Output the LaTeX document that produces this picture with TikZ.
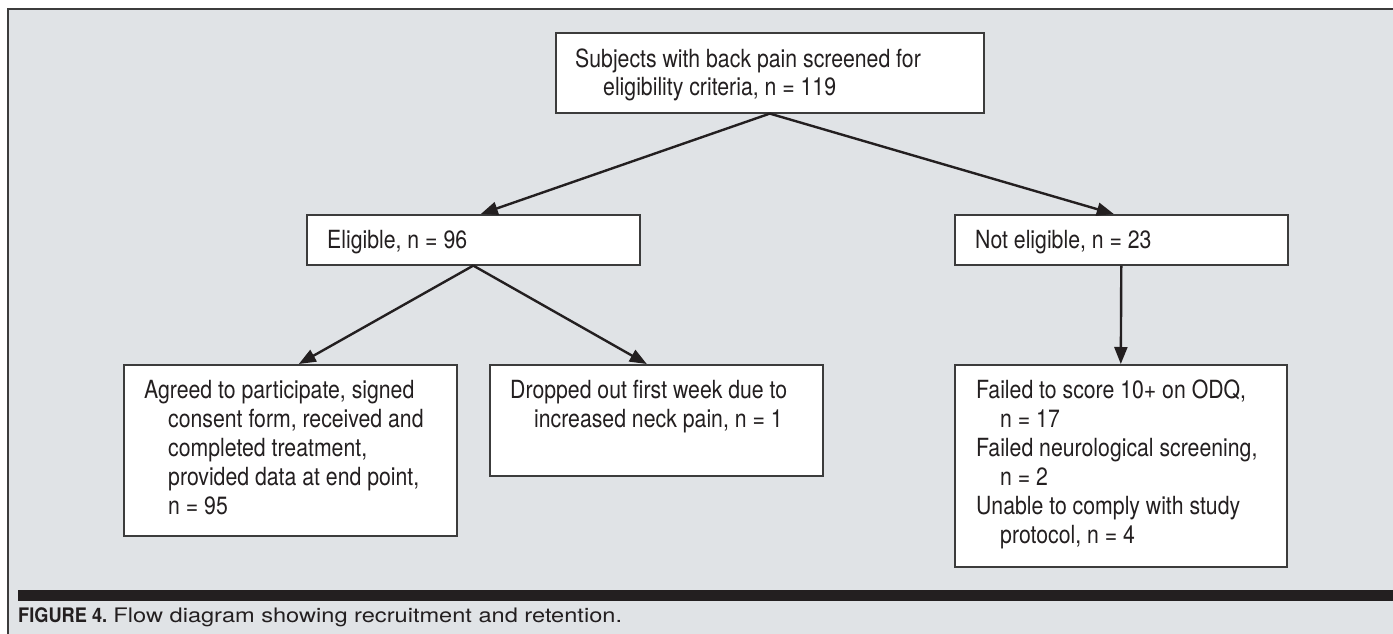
\documentclass[tikz,border=0pt]{standalone}
\usepackage{fontspec}
\setmainfont[FakeStretch=0.85]{TeX Gyre Heros}
\newfontfamily\capfont[FakeStretch=1.18]{TeX Gyre Heros}
\newfontfamily\capbold[FakeStretch=0.91]{TeX Gyre Heros}
\usetikzlibrary{arrows.meta}
\definecolor{panel}{RGB}{224,227,230}
\definecolor{ink}{RGB}{35,31,32}
\definecolor{edge}{RGB}{60,60,60}
\begin{document}
\begin{tikzpicture}[x=1pt,y=-1pt,
  box/.style={draw=edge, line width=1.6pt, fill=white, minimum width=333pt, inner sep=0pt, anchor=north west},
  txt/.style={anchor=north west, inner sep=0pt, align=left, text=ink, font=\fontsize{25}{29}\selectfont},
  arr/.style={draw=ink, line width=2.4pt, -{Triangle[length=17pt,width=13pt]}}]
\useasboundingbox (0,0) rectangle (1393,634);
% panel
\fill[panel] (8,9) rectangle (1393,634);
\draw[edge, line width=2pt] (8,634) -- (8,9.5) -- (1393,9.5);
% boxes
\node[box, minimum width=428pt, minimum height=80pt] (top) at (555,32) {};
\node[box, minimum height=50pt] (elig) at (306,214) {};
\node[box, minimum height=50pt] (notel) at (954,214) {};
\node[box, minimum height=171pt] (agreed) at (123,364) {};
\node[box, minimum height=111pt] (dropped) at (489,364) {};
\node[box, minimum width=332pt, minimum height=202pt] (failed) at (954,364) {};
% texts
\node[txt] (topT) at ([shift={(20,17)}]top.north west)
  {\rule{0pt}{18pt}Subjects with back pain screened for\\[-1pt]
   \hspace*{28pt}eligibility criteria, n = 119};
\node[txt] (eligT) at ([shift={(21,16)}]elig.north west)
  {\rule{0pt}{18pt}Eligible, n = 96};
\node[txt] (notelT) at ([shift={(21,16)}]notel.north west)
  {\rule{0pt}{18pt}Not eligible, n = 23};
\node[txt] (agreedT) at ([shift={(21,16)}]agreed.north west)
  {\rule{0pt}{18pt}Agreed to participate, signed\\
   \hspace*{24pt}consent form, received and\\
   \hspace*{24pt}completed treatment,\\
   \hspace*{24pt}provided data at end point,\\
   \hspace*{24pt}n = 95};
\node[txt] (droppedT) at ([shift={(21,16)}]dropped.north west)
  {\rule{0pt}{18pt}Dropped out first week due to\\
   \hspace*{24pt}increased neck pain, n = 1};
\node[txt] (failedT) at ([shift={(22,16)}]failed.north west)
  {\rule{0pt}{18pt}Failed to score 10+ on ODQ,\\
   \hspace*{24pt}n = 17\\
   Failed neurological screening,\\
   \hspace*{24pt}n = 2\\
   Unable to comply with study\\
   \hspace*{24pt}protocol, n = 4};
% connectors
\draw[arr] (top.south) -- ([xshift=7.5pt]elig.north);
\draw[arr] (top.south) -- ([xshift=-7.5pt]notel.north);
\draw[arr] (elig.south) -- ([xshift=8.5pt]agreed.north);
\draw[arr] (elig.south) -- ([xshift=-9.5pt]dropped.north);
\draw[arr] (notel.south) -- (failed.north);
% rule and caption
\fill[ink] (18,590) rectangle (1393,601);
\node[anchor=base west, inner sep=0pt, text=ink, font=\fontsize{20}{22}\selectfont] (cap) at (18,622)
  {{\capbold\bfseries FIGURE 4.} {\capfont Flow diagram showing recruitment and retention.}};
\end{tikzpicture}
\end{document}
